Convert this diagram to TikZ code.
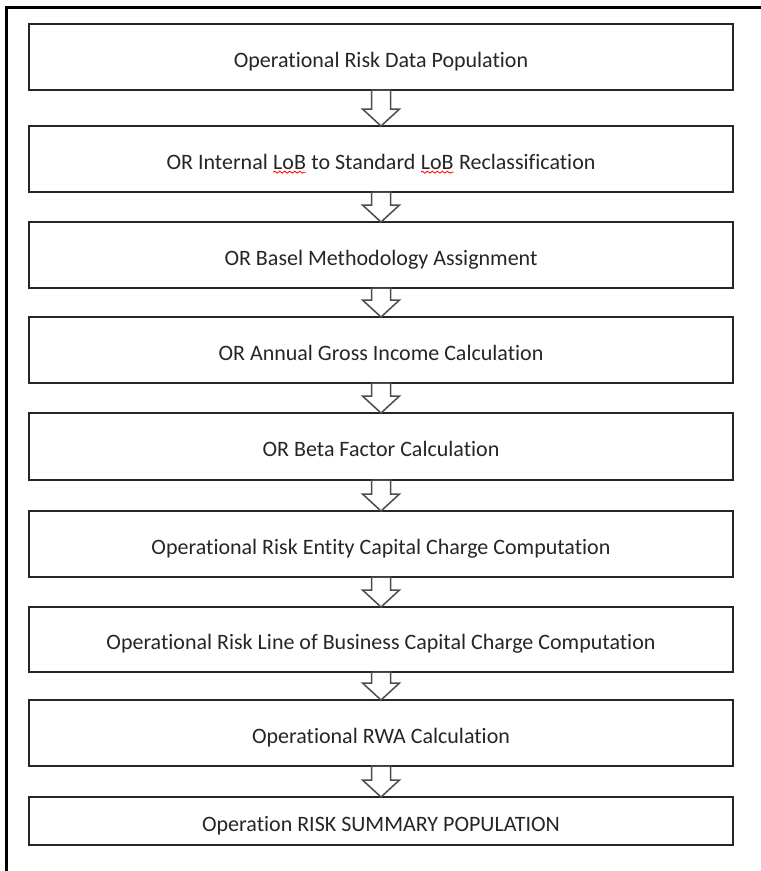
\documentclass[tikz,border=0pt]{standalone}
\usepackage{fontspec}
\setmainfont[Ligatures = NoCommon]{Carlito}
\usetikzlibrary{positioning,calc,decorations.pathmorphing}

% Red spell-check wave under a word
\newcommand{\spellmark}[1]{\tikz[baseline = (w.base)]{\node [draw = none, fill = none, minimum width = 0pt, minimum height = 0pt, text height = 0.7em, text depth = 0pt, inner sep = 0pt, outer sep = 0pt] (w) {#1}; \draw [red, line width = 0.8pt, decorate, decoration = {snake, amplitude = 1pt, segment length = 5pt}] ([yshift = -3pt] w.base west) -- ([yshift = -3pt] w.base east);}}

\tikzset{
	stagebox/.style = {draw = black!85, line width = 1.5pt, fill = white, minimum width = 704pt, minimum height = 66pt, inner sep = 0pt, outer sep = 0pt, text height = 21.4pt, text depth = 1pt, font = \fontsize{22}{26}\selectfont, text = black!85},
	flowarrow/.style = {draw = black!70, line width = 1.5pt, fill = white, line join = miter},
	frameline/.style = {line width = 3pt}
}

\begin{document}
\begin{tikzpicture}[x = 1pt, y = 1pt]

	% Definition
	
	\def\sw{9.5}	% Half width of the arrow shaft
	\def\hw{18.5}	% Half width of the arrow head
	\def\hl{17}		% Length of the arrow head
	
	\useasboundingbox (0, 0) rectangle (761, -871);
	
	% Frame
	
	\draw [frameline] (6, -871) -- (6, -7) -- (761, -7);
	
	% Stages
	
	\node [stagebox] (popdata) at (381, -57) {Operational Risk Data Population};
	\node [stagebox, below = 36pt of popdata] (lobreclass) {OR Internal \spellmark{LoB} to Standard \spellmark{LoB} Reclassification};
	\node [stagebox, below = 30pt of lobreclass] (baselmethod) {OR Basel Methodology Assignment};
	\node [stagebox, below = 29pt of baselmethod] (grossincome) {OR Annual Gross Income Calculation};
	\node [stagebox, minimum height = 67pt, below = 30pt of grossincome] (betafactor) {OR Beta Factor Calculation};
	\node [stagebox, below = 31pt of betafactor] (entitycharge) {Operational Risk Entity Capital Charge Computation};
	\node [stagebox, minimum height = 65pt, below = 30pt of entitycharge] (lobcharge) {Operational Risk Line of Business Capital Charge Computation};
	\node [stagebox, below = 28pt of lobcharge] (rwacalc) {Operational RWA Calculation};
	\node [stagebox, minimum height = 48pt, below = 31pt of rwacalc] (summary) {Operation RISK SUMMARY POPULATION};
	
	% Block arrows
	
	\foreach \a/\b in {popdata/lobreclass, lobreclass/baselmethod, baselmethod/grossincome, grossincome/betafactor, betafactor/entitycharge, entitycharge/lobcharge, lobcharge/rwacalc, rwacalc/summary}
		\draw [flowarrow] ($(\a.south) + (-\sw, 0)$) -- ($(\b.north) + (-\sw, \hl)$) -- ($(\b.north) + (-\hw, \hl)$) -- (\b.north) -- ($(\b.north) + (\hw, \hl)$) -- ($(\b.north) + (\sw, \hl)$) -- ($(\a.south) + (\sw, 0)$) -- cycle;

\end{tikzpicture}
\end{document}
